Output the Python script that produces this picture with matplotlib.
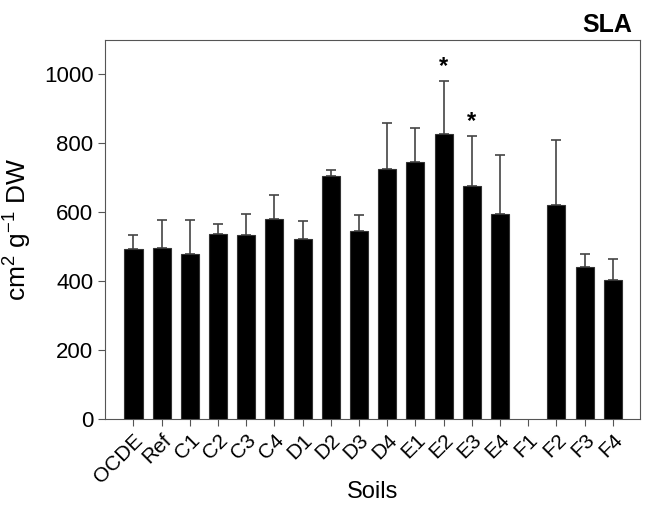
import numpy as np
import matplotlib.pyplot as plt

plt.rcParams['font.family'] = ['Liberation Sans', 'DejaVu Sans']
plt.rcParams['mathtext.default'] = 'regular'

soils = ['OCDE', 'Ref', 'C1', 'C2', 'C3', 'C4', 'D1', 'D2', 'D3', 'D4',
         'E1', 'E2', 'E3', 'E4', 'F1', 'F2', 'F3', 'F4']
sla = [491, 494, 477, 536, 532, 578, 521, 704, 545, 723,
       744, 824, 675, 592, np.nan, 619, 441, 401]
sla_err = [40, 82, 98, 29, 61, 71, 53, 17, 45, 134,
           97, 155, 144, 172, np.nan, 189, 37, 62]
signif = ['', '', '', '', '', '', '', '', '', '',
          '', '*', '*', '', '', '', '', '']

fig, ax = plt.subplots(figsize=(6.46, 5.07), dpi=100)
x = np.arange(len(soils))
vals = np.array(sla, dtype=float)
errs = np.array(sla_err, dtype=float)
ok = ~np.isnan(vals)
ax.bar(x[ok], vals[ok], 0.64, color='black', edgecolor='#333333', linewidth=0.8, zorder=3)
ax.errorbar(x[ok], vals[ok], yerr=[np.zeros(ok.sum()), errs[ok]], fmt='none',
            ecolor='#444444', elinewidth=1.2, capsize=3.5, capthick=1.2, zorder=2)
for i, s in enumerate(signif):
    if s:
        ax.text(x[i], vals[i] + errs[i] + 8, s, ha='center', va='bottom',
                fontsize=17, fontweight='bold')

ax.set_xlim(-1, 17.95)
ax.set_ylim(0, 1097)
ax.set_xticks(x)
ax.set_xticklabels(soils, rotation=45, ha='right', rotation_mode='anchor', fontsize=15)
ax.set_yticks(np.arange(0, 1001, 200))
ax.tick_params(axis='y', labelsize=16, length=5, color='#555555')
ax.tick_params(axis='x', length=5, color='#555555')
for sp in ax.spines.values():
    sp.set_color('#555555')
ax.set_ylabel('cm$^2$ g$^{-1}$ DW', fontsize=19)
ax.yaxis.set_label_coords(-0.133, 0.5)
ax.set_xlabel('Soils', fontsize=17, labelpad=-4)
fig.text(0.978, 0.975, 'SLA', ha='right', va='top', fontsize=18, fontweight='bold')

plt.subplots_adjust(left=0.163, right=0.99, top=0.921, bottom=0.174)
plt.savefig('out.png', dpi=100)
